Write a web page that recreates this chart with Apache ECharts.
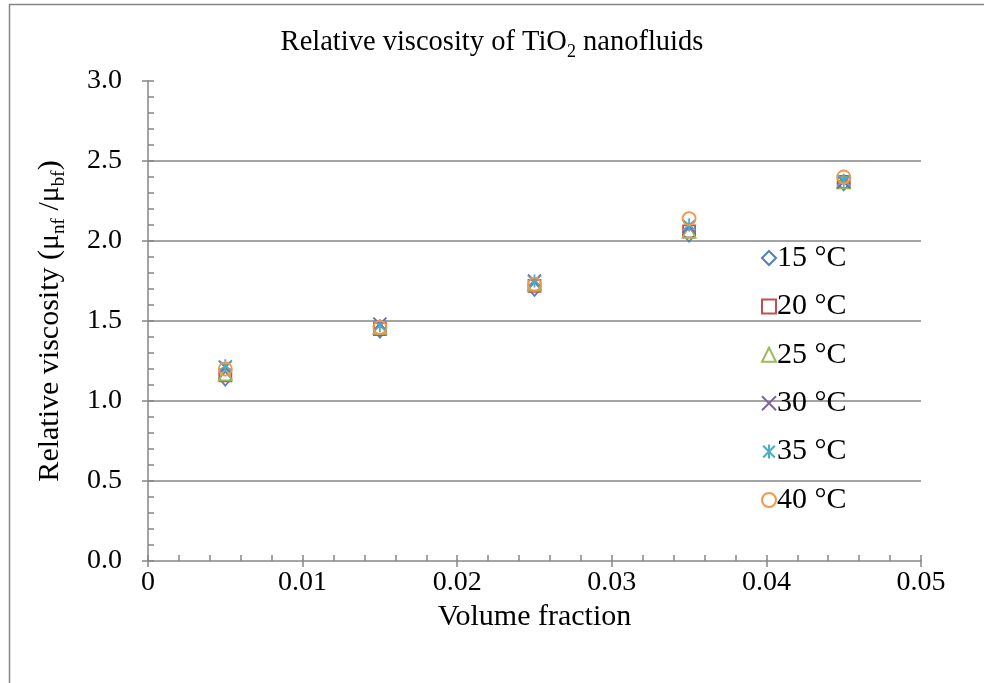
<!DOCTYPE html>
<html>
<head>
<meta charset="utf-8">
<script src="https://cdn.jsdelivr.net/npm/echarts@6/dist/echarts.min.js"></script>
<style>
  html, body { margin: 0; padding: 0; background: #fff; }
  #chart { width: 984px; height: 683px; }
</style>
</head>
<body>
<div id="chart"></div>
<script>
// Volume fraction of TiO2 particles
const volumeFraction = [0.005, 0.015, 0.025, 0.035, 0.045];

// Temperature series names
const temperatures = ['15 °C', '20 °C', '25 °C', '30 °C', '35 °C', '40 °C'];

// Relative viscosity (mu_nf / mu_bf) per temperature
const visc15 = [1.14, 1.44, 1.70, 2.04, 2.36];
const visc20 = [1.16, 1.45, 1.72, 2.06, 2.37];
const visc25 = [1.17, 1.46, 1.73, 2.06, 2.37];
const visc30 = [1.21, 1.48, 1.75, 2.09, 2.37];
const visc35 = [1.22, 1.47, 1.75, 2.10, 2.38];
const visc40 = [1.20, 1.46, 1.73, 2.14, 2.40];

// Axis tick values
const xTicks = [0, 0.01, 0.02, 0.03, 0.04, 0.05];
const yTicks = [0, 0.5, 1.0, 1.5, 2.0, 2.5, 3.0];

const viscosity = [visc15, visc20, visc25, visc30, visc35, visc40];
const colors = ['#4F81BD', '#C0504D', '#9BBB59', '#8064A2', '#4BACC6', '#F79646'];
const symbols = [
  'diamond',
  'rect',
  'triangle',
  'path://M0,0L10,10M10,0L0,10',
  'path://M0,0L10,10M10,0L0,10M5,-1L5,11',
  'circle'
];
const sizes = [[12, 14], 12, 13, 13, 13, 13];

const FONT = '"Liberation Serif", "Times New Roman", serif';
const AXIS_GRAY = '#868686';

const series = temperatures.map((name, i) => ({
  name: name,
  type: 'scatter',
  xAxisIndex: 0,
  yAxisIndex: 0,
  symbol: symbols[i],
  symbolSize: sizes[i],
  itemStyle: { color: 'rgba(255,255,255,0)', borderColor: colors[i], borderWidth: 1.8, opacity: 1 },
  emphasis: { disabled: true },
  data: volumeFraction.map((v, j) => [v, viscosity[i][j]])
}));

const xBase = {
  type: 'value',
  min: xTicks[0],
  max: xTicks[xTicks.length - 1],
  interval: xTicks[1] - xTicks[0],
  position: 'bottom'
};
const yBase = {
  type: 'value',
  min: yTicks[0],
  max: yTicks[yTicks.length - 1],
  interval: yTicks[1] - yTicks[0],
  position: 'left'
};

const chart = echarts.init(document.getElementById('chart'), null, { renderer: 'canvas' });
chart.setOption({
  animation: false,
  backgroundColor: '#fff',
  textStyle: { fontFamily: FONT },
  title: {
    text: 'Relative viscosity of TiO{sub|2} nanofluids',
    left: 'center',
    top: 20,
    textStyle: {
      fontFamily: FONT, fontSize: 28.5, fontWeight: 'normal', color: '#000', lineHeight: 36,
      rich: { sub: { fontFamily: FONT, fontSize: 18, verticalAlign: 'bottom', lineHeight: 20, color: '#000' } }
    }
  },
  grid: { left: 148, right: 63, top: 81, bottom: 122, containLabel: false },
  legend: {
    orient: 'vertical',
    left: 756,
    top: 238,
    itemWidth: 14,
    itemHeight: 14,
    itemGap: 18.4,
    selectedMode: false,
    data: temperatures,
    textStyle: { fontFamily: FONT, fontSize: 30, color: '#000', lineHeight: 30, padding: [0, 0, 0, -4] }
  },
  xAxis: [
    Object.assign({}, xBase, {
      name: 'Volume fraction',
      nameLocation: 'middle',
      nameGap: 35,
      nameTextStyle: { fontFamily: FONT, fontSize: 30, color: '#000' },
      axisLine: { show: true, lineStyle: { color: AXIS_GRAY, width: 1.5 } },
      axisTick: { show: true, inside: true, length: 6, lineStyle: { color: AXIS_GRAY, width: 1.5 } },
      minorTick: { show: true, splitNumber: 5, length: 6, lineStyle: { color: AXIS_GRAY, width: 1.5 } },
      axisLabel: {
        fontFamily: FONT, fontSize: 28, color: '#000', margin: 8,
        formatter: v => String(+v.toFixed(3))
      },
      splitLine: { show: false }
    }),
    Object.assign({}, xBase, {
      axisLine: { show: false },
      axisTick: { show: true, inside: false, length: 6, lineStyle: { color: AXIS_GRAY, width: 1.5 } },
      axisLabel: { show: false },
      splitLine: { show: false }
    })
  ],
  yAxis: [
    Object.assign({}, yBase, {
      name: 'Relative viscosity ({m|μ}{sub|nf} {m|/μ}{sub|bf})',
      nameLocation: 'middle',
      nameGap: 79,
      nameRotate: 90,
      nameTextStyle: {
        fontFamily: FONT, fontSize: 30, color: '#000', lineHeight: 38,
        rich: {
          m: { fontFamily: FONT, fontSize: 30, color: '#000', lineHeight: 38 },
          sub: { fontFamily: FONT, fontSize: 19, color: '#000', verticalAlign: 'bottom', lineHeight: 22 }
        }
      },
      axisLine: { show: true, lineStyle: { color: AXIS_GRAY, width: 1.5 } },
      axisTick: { show: true, inside: true, length: 6, lineStyle: { color: AXIS_GRAY, width: 1.5 } },
      minorTick: { show: true, splitNumber: 5, length: 6, lineStyle: { color: AXIS_GRAY, width: 1.5 } },
      axisLabel: {
        fontFamily: FONT, fontSize: 28, color: '#000', margin: 26,
        formatter: v => v.toFixed(1)
      },
      splitLine: { show: true, showMinLine: false, showMaxLine: false, lineStyle: { color: AXIS_GRAY, width: 1.5 } }
    }),
    Object.assign({}, yBase, {
      axisLine: { show: false },
      axisTick: { show: true, inside: false, length: 6, lineStyle: { color: AXIS_GRAY, width: 1.5 } },
      axisLabel: { show: false },
      splitLine: { show: false }
    })
  ],
  graphic: [{
    type: 'rect',
    shape: { x: 9.5, y: 4.5, width: 1000, height: 1000 },
    style: { fill: 'none', stroke: AXIS_GRAY, lineWidth: 1.5 },
    silent: true,
    z: -1
  }],
  series: series
});
</script>
</body>
</html>
